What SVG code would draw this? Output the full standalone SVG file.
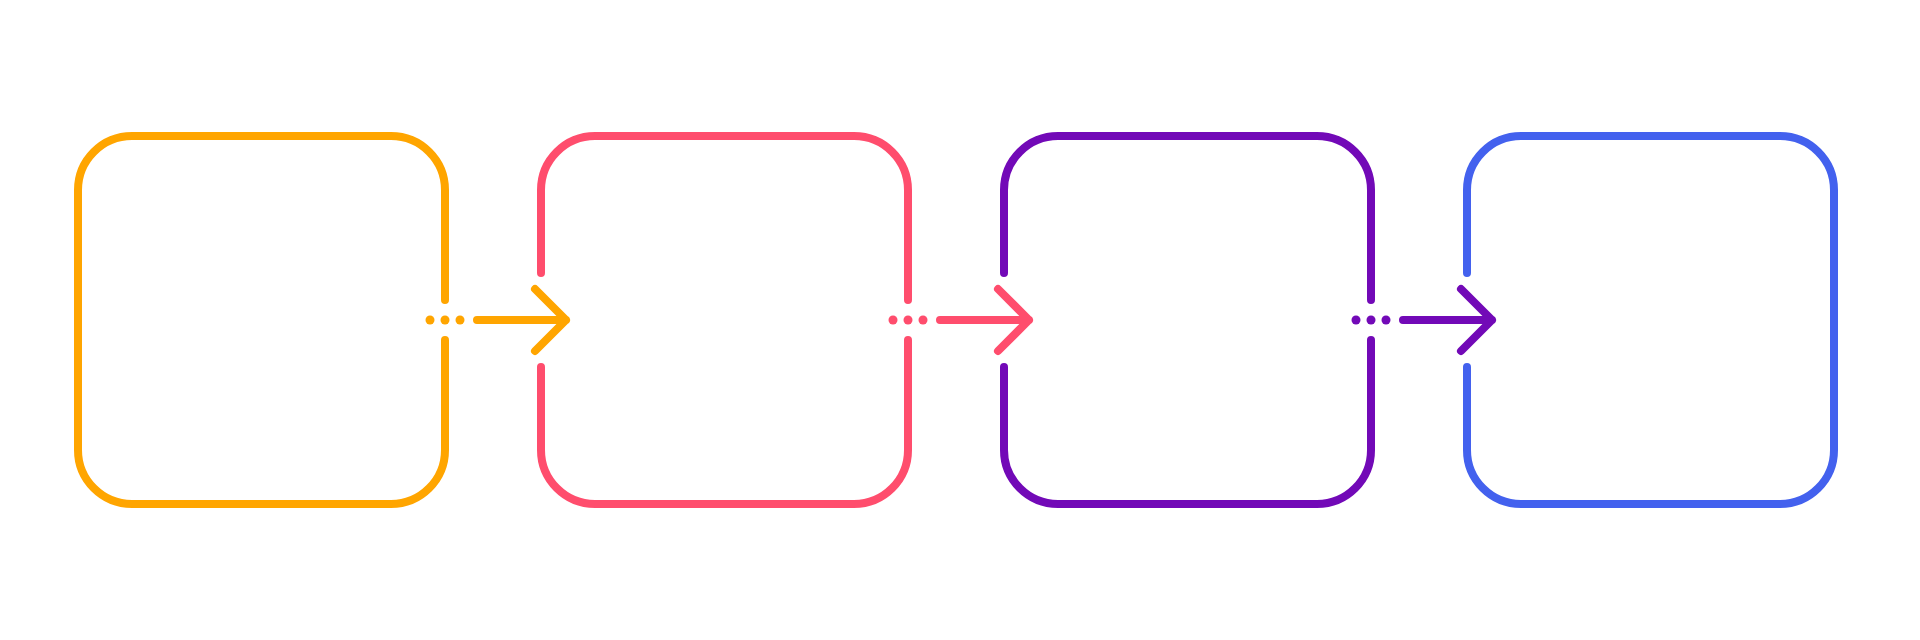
<svg xmlns="http://www.w3.org/2000/svg" width="1920" height="640" viewBox="0 0 1920 640">
  <style>
    .box{fill:none;stroke-width:8;stroke-linecap:round;stroke-linejoin:round}
    .conn{fill:none;stroke-width:8;stroke-linecap:round;stroke-linejoin:round}
    .o{stroke:#FFA500}.p{stroke:#FF4D6D}.v{stroke:#7209B7}.b{stroke:#4361EE}
    .fo{fill:#FFA500}.fp{fill:#FF4D6D}.fv{fill:#7209B7}
  </style>
  <rect width="1920" height="640" fill="#ffffff"/>
  <g id="node1">
    <path class="box o" d="M445 300 V190 A54 54 0 0 0 391 136 H132 A54 54 0 0 0 78 190 V450 A54 54 0 0 0 132 504 H391 A54 54 0 0 0 445 450 V340"/>
  </g>
  <g id="node2">
    <path class="box p" d="M908 300 V190 A54 54 0 0 0 854 136 H595 A54 54 0 0 0 541 190 V273 M541 367 V450 A54 54 0 0 0 595 504 H854 A54 54 0 0 0 908 450 V340"/>
  </g>
  <g id="node3">
    <path class="box v" d="M1371 300 V190 A54 54 0 0 0 1317 136 H1058 A54 54 0 0 0 1004 190 V273 M1004 367 V450 A54 54 0 0 0 1058 504 H1317 A54 54 0 0 0 1371 450 V340"/>
  </g>
  <g id="node4">
    <path class="box b" d="M1467 273 V190 A54 54 0 0 1 1521 136 H1780 A54 54 0 0 1 1834 190 V450 A54 54 0 0 1 1780 504 H1521 A54 54 0 0 1 1467 450 V367"/>
  </g>
  <g id="connectors">
    <g id="c1">
      <circle class="fo" cx="430" cy="320" r="4.5"/>
      <circle class="fo" cx="445" cy="320" r="4.5"/>
      <circle class="fo" cx="460" cy="320" r="4.5"/>
      <path class="conn o" d="M477 320 H566 M535 289 L566 320 L535 351"/>
    </g>
    <g id="c2">
      <circle class="fp" cx="893" cy="320" r="4.5"/>
      <circle class="fp" cx="908" cy="320" r="4.5"/>
      <circle class="fp" cx="923" cy="320" r="4.5"/>
      <path class="conn p" d="M940 320 H1029 M998 289 L1029 320 L998 351"/>
    </g>
    <g id="c3">
      <circle class="fv" cx="1356" cy="320" r="4.5"/>
      <circle class="fv" cx="1371" cy="320" r="4.5"/>
      <circle class="fv" cx="1386" cy="320" r="4.5"/>
      <path class="conn v" d="M1403 320 H1492 M1461 289 L1492 320 L1461 351"/>
    </g>
  </g>
</svg>
